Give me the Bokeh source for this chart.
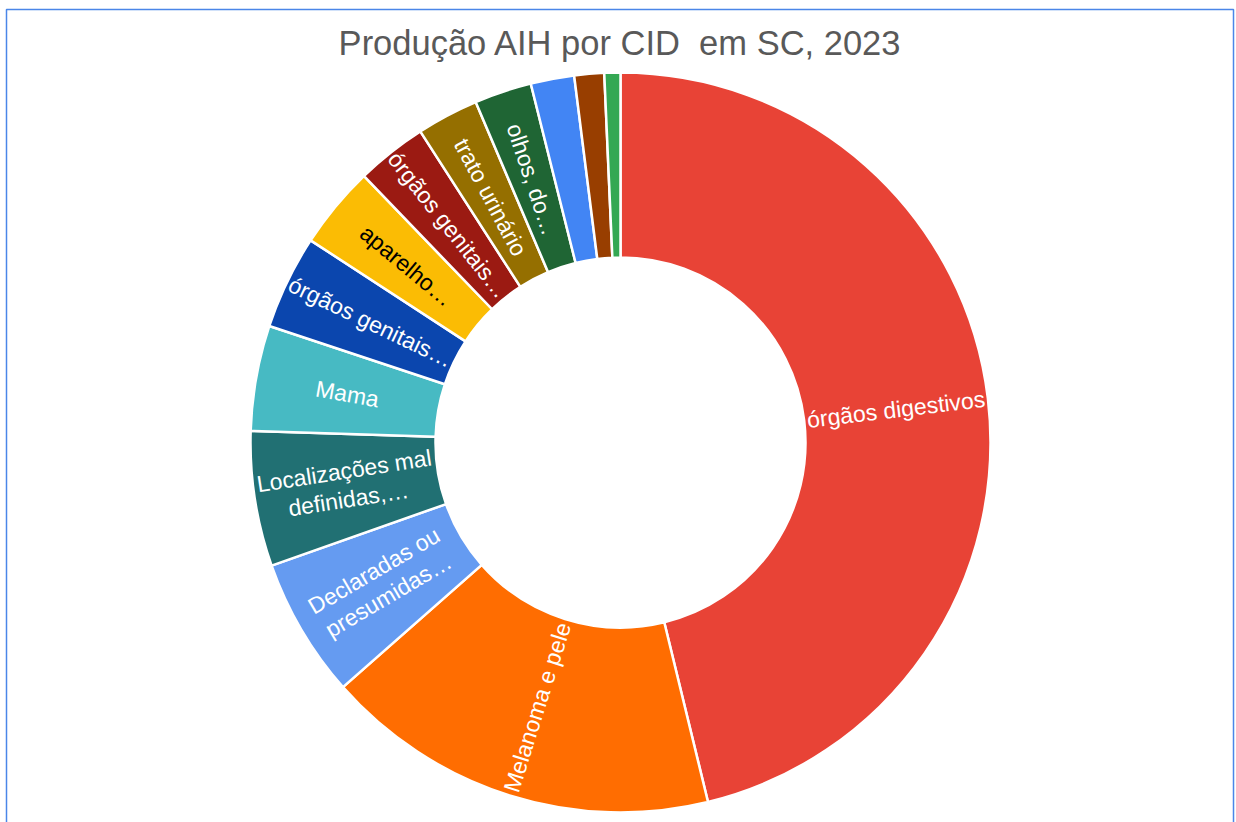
import numpy as np
from bokeh.plotting import figure
from bokeh.models import ColumnDataSource
from bokeh.core.properties import value
from bokeh.embed import file_html
from bokeh.resources import INLINE

# ---- data (share of AIH production, %) ----
categories = ["órgãos digestivos", "Melanoma e pele", "Declaradas ou presumidas",
              "Localizações mal definidas", "Mama", "órgãos genitais masculinos",
              "aparelho respiratório", "órgãos genitais femininos", "trato urinário",
              "olhos, do encéfalo", "tecidos linfático", "outros", "tireoide"]
shares = [46.2, 17.3, 6.1, 5.9, 4.6, 4.1, 3.6, 3.1, 2.7, 2.5, 1.9, 1.3, 0.7]
labels = ["órgãos digestivos", "Melanoma e pele", "Declaradas ou\npresumidas…",
          "Localizações mal\ndefinidas,…", "Mama", "órgãos genitais…",
          "aparelho…", "órgãos genitais…", "trato urinário", "olhos, do…", "", "", ""]
colors = ["#e84336", "#ff6d01", "#659bf1", "#217073", "#47bac3", "#0b46ae",
          "#fbbc04", "#9b1a12", "#956f00", "#1f6534", "#4285f4", "#983e00", "#34a853"]
label_colors = ["#ffffff"] * 6 + ["#000000"] + ["#ffffff"] * 6
title_text = "Produção AIH por CID\u00a0 em SC, 2023"

W, H = 1236, 822
CX, CY = 620, 442          # centre of donut from the top-left of the figure (px)
R_OUT, R_IN = 370, 185

vals = np.array(shares, dtype=float)
frac = vals / vals.sum()
cum = np.concatenate([[0.0], np.cumsum(frac)]) * 360.0   # clockwise from 12 o'clock
th1, th2 = cum[:-1], cum[1:]
start = np.radians(90 - th2)
end = np.radians(90 - th1)
mid = (th1 + th2) / 2
rm = (R_OUT + R_IN) / 2
lx = rm * np.sin(np.radians(mid))
ly = rm * np.cos(np.radians(mid))
lang = np.radians(np.where(mid < 180, 90 - mid, 270 - mid))

src = ColumnDataSource(dict(cat=categories, start=start, end=end, color=colors,
                            lx=lx, ly=ly, lang=lang, label=labels, lcolor=label_colors))

p = figure(width=W, height=H, x_range=(-CX, W - CX), y_range=(CY - H, CY),
           output_backend="svg", toolbar_location=None, min_border=0)
p.axis.visible = False
p.grid.visible = False
p.background_fill_color = "#ffffff"
p.border_fill_color = "#ffffff"
p.outline_line_color = None

# chart frame (blue box)
p.quad(left=[6 - CX], right=[1233 - CX], top=[CY - 9], bottom=[CY - H - 20],
       fill_color=None, line_color="#4a86e8", line_width=1.5)

p.annular_wedge(x=0, y=0, inner_radius=R_IN, outer_radius=R_OUT,
                start_angle="start", end_angle="end", fill_color="color",
                line_color="#ffffff", line_width=2.5, source=src)

p.text(x="lx", y="ly", text="label", angle="lang", text_color="lcolor",
       text_font=value("Liberation Sans"), text_font_size="23px",
       text_align="center", text_baseline="middle", text_line_height=1.1, source=src)

p.text(x=[0], y=[CY - 42], text=[title_text], text_color="#595959",
       text_font=value("Liberation Sans"), text_font_size="34.5px",
       text_align="center", text_baseline="middle")

open("out.html", "w").write(file_html(p, INLINE))
